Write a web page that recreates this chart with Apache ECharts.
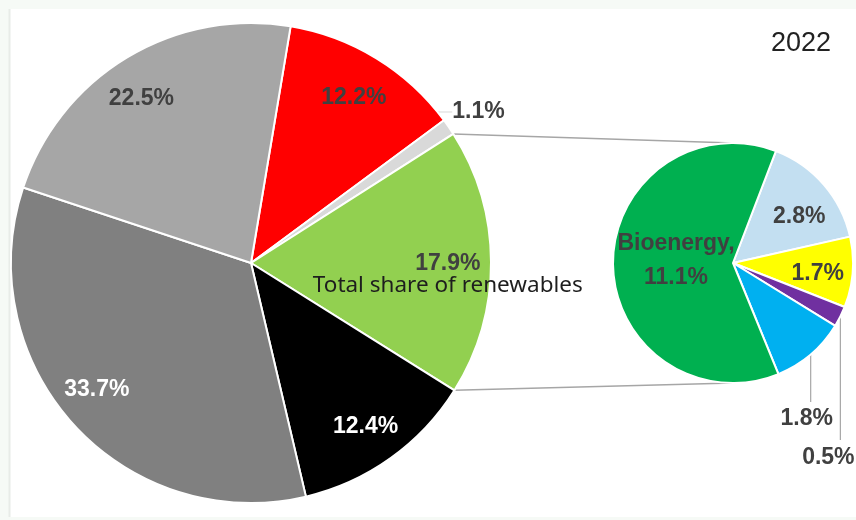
<!DOCTYPE html>
<html><head><meta charset="utf-8">
<script src="https://cdn.jsdelivr.net/npm/echarts@6/dist/echarts.min.js"></script>
<style>html,body{margin:0;padding:0;background:#f6faf6}#c{width:856px;height:520px}</style>
</head><body><div id="c"></div>
<script>
// ---- data ----
const mainCategories = ['Segment 1', 'Segment 2', 'Total share of renewables', 'Segment 3', 'Segment 4', 'Segment 5'];
const mainValues = [12.2, 1.1, 17.9, 12.4, 33.7, 22.5];
const mainColors = ['#ff0000', '#d9d9d9', '#92d050', '#000000', '#808080', '#a6a6a6'];
const subCategories = ['Renewable 1', 'Renewable 2', 'Renewable 3', 'Renewable 4', 'Bioenergy'];
const subValues = [2.8, 1.7, 0.5, 1.8, 11.1];
const subColors = ['#c3dff1', '#ffff00', '#7030a0', '#00b0f0', '#00b050'];
const yearLabel = '2022';
const renewablesLabel = 'Total share of renewables';

// ---- geometry (start = clockwise degrees from 12 o'clock) ----
const MAIN = { cx: 251, cy: 263, r: 240, start: 9.5 };
const SUB = { cx: 733, cy: 263, r: 120, start: 21 };
// label nudges (style only)
const mainNudge = [[0, 2], [2, 4], [0, 12], [0, 4], [-9, -6], [-8, 4]];
const subNudge = [[5, 7], [4, 4], [0, 0], [0, 0], [9, -3]];

function angles(values, start) {
  const total = values.reduce((a, b) => a + b, 0);
  let a = start;
  return values.map(v => { const s = a; a += v / total * 360; return [s, a]; });
}
function pt(g, deg, rr) {
  const t = deg * Math.PI / 180;
  return [g.cx + rr * Math.sin(t), g.cy - rr * Math.cos(t)];
}
const mainAng = angles(mainValues, MAIN.start);
const subAng = angles(subValues, SUB.start);
const fmt = v => v.toFixed(1) + '%';
const boldFont = { fontFamily: 'Liberation Sans', fontWeight: 'bold', fontSize: 23 };

const mainLabelColors = ['#404040', '#404040', '#404040', '#ffffff', '#ffffff', '#404040'];
const mainData = mainValues.map((v, i) => {
  const item = { name: mainCategories[i], value: v, itemStyle: { color: mainColors[i] },
    label: Object.assign({ show: true, position: 'inside', color: mainLabelColors[i], formatter: fmt(v) }, boldFont) };
  if (i === 2) {
    item.label.formatter = '{b|' + fmt(v) + '}\n{t|' + renewablesLabel + '}';
    item.label.rich = {
      b: Object.assign({ color: '#404040', lineHeight: 22 }, boldFont),
      t: { fontFamily: 'Noto Sans', fontWeight: 'normal', fontSize: 22.5, color: '#1e1e1e', lineHeight: 22 }
    };
  }
  return item;
});

const subData = subValues.map((v, i) => {
  const outside = (i === 2 || i === 3);
  return { name: subCategories[i], value: v, itemStyle: { color: subColors[i] },
    label: Object.assign({ show: true, position: outside ? 'outside' : 'inside', color: '#404040',
      formatter: i === 4 ? subCategories[i] + ',\n' + fmt(v) : fmt(v), lineHeight: 34 }, boldFont),
    labelLine: { show: outside, length: 10, length2: 10, lineStyle: { color: '#a6a6a6', width: 1.2 } } };
});

const chart = echarts.init(document.getElementById('c'));
const pG = pt(MAIN, mainAng[2][0], MAIN.r), pG2 = pt(MAIN, mainAng[2][1], MAIN.r);

chart.setOption({
  backgroundColor: 'transparent',
  animation: false,
  graphic: [
    { type: 'rect', z: -10, shape: { x: 9, y: 9, width: 847, height: 508 }, style: { fill: '#ffffff' } },
    { type: 'line', z: -9, shape: { x1: 9.5, y1: 9, x2: 9.5, y2: 517 }, style: { stroke: '#e8ece8', lineWidth: 2 } },
    { type: 'line', z: 0, shape: { x1: pG[0], y1: pG[1], x2: SUB.cx, y2: SUB.cy - SUB.r }, style: { stroke: '#a6a6a6', lineWidth: 1.5 } },
    { type: 'line', z: 0, shape: { x1: pG2[0], y1: pG2[1], x2: SUB.cx, y2: SUB.cy + SUB.r }, style: { stroke: '#a6a6a6', lineWidth: 1.5 } },
    { type: 'text', z: 5, x: 831, y: 44, style: { text: yearLabel, fontFamily: 'Liberation Sans', fontSize: 27, fill: '#222222', align: 'right', verticalAlign: 'middle' } }
  ],
  series: [
    {
      type: 'pie', center: [MAIN.cx, MAIN.cy], radius: [0, MAIN.r], startAngle: 90 - MAIN.start, clockwise: true,
      itemStyle: { borderColor: '#ffffff', borderWidth: 2 }, emphasis: { disabled: true }, silent: true,
      avoidLabelOverlap: false,
      data: mainData,
      labelLayout: function (p) {
        const i = p.dataIndex; const m = (mainAng[i][0] + mainAng[i][1]) / 2;
        const rr = i === 1 ? 1.14 * MAIN.r : 0.82 * MAIN.r;
        const q = pt(MAIN, m, rr);
        return { x: q[0] + mainNudge[i][0], y: q[1] + mainNudge[i][1], align: 'center', verticalAlign: 'middle' };
      }
    },
    {
      type: 'pie', center: [SUB.cx, SUB.cy], radius: [0, SUB.r], startAngle: 90 - SUB.start, clockwise: true,
      itemStyle: { borderColor: '#ffffff', borderWidth: 2 }, emphasis: { disabled: true }, silent: true,
      avoidLabelOverlap: false,
      data: subData,
      labelLayout: function (p) {
        const i = p.dataIndex; const m = (subAng[i][0] + subAng[i][1]) / 2;
        if (i === 2 || i === 3) {
          const e = pt(SUB, m, SUB.r);
          const yEnd = i === 2 ? 440 : 402;
          const ly = i === 2 ? 458 : 419;
          const lx = i === 2 ? e[0] - 12 : e[0] - 4;
          return { x: lx, y: ly, align: 'center', verticalAlign: 'middle',
            labelLinePoints: [e, [e[0], (e[1] + yEnd) / 2], [e[0], yEnd]] };
        }
        const rr = i === 4 ? 0.55 * SUB.r : 0.675 * SUB.r;
        const q = pt(SUB, m, rr);
        return { x: q[0] + subNudge[i][0], y: q[1] + subNudge[i][1], align: 'center', verticalAlign: 'middle' };
      }
    }
  ]
});
</script></body></html>
